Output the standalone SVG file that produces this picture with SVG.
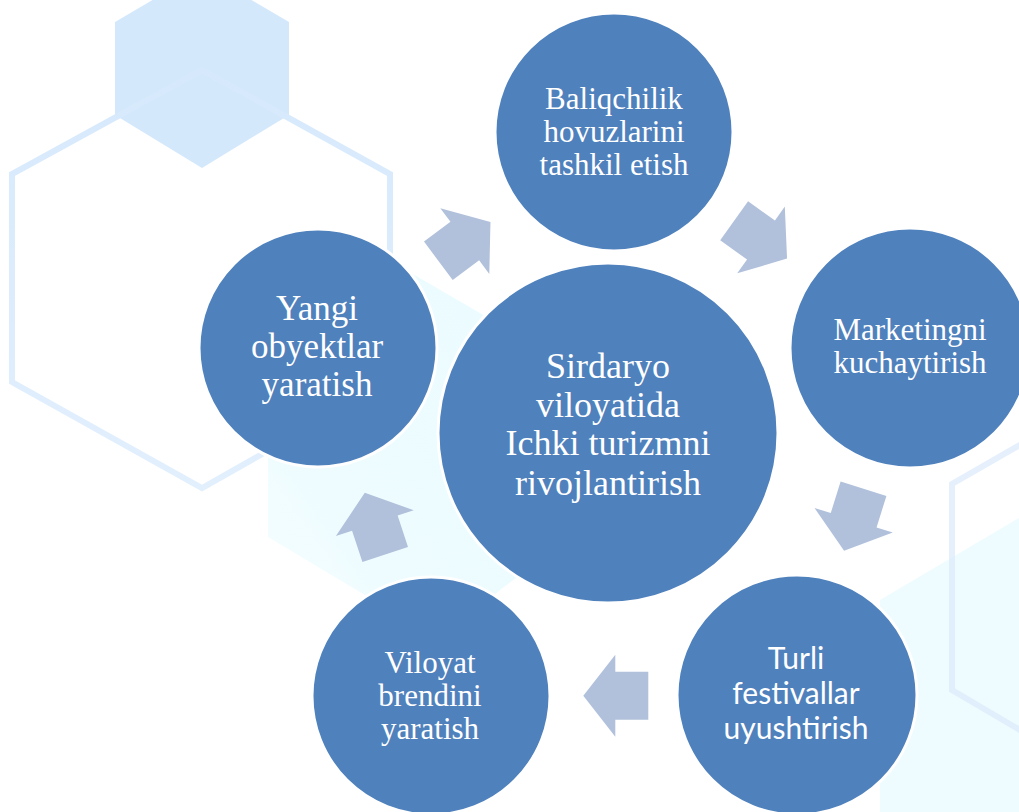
<svg xmlns="http://www.w3.org/2000/svg" width="1019" height="812" viewBox="0 0 1019 812">
<style>
.node{fill:#4F81BD;stroke:#FFFFFF;stroke-width:3}
.lbl{fill:#FFFFFF;font-family:"Liberation Serif","Times New Roman",serif;text-anchor:middle}
.sans{fill:#FFFFFF;font-family:Lato,"Liberation Sans",sans-serif;text-anchor:middle}
.arr{fill:#B1C1DC}
.hexline{fill:none;stroke-width:6;stroke-linejoin:miter}
</style>
<defs>
<path id="arrow" d="M-32.5,-24 L0.5,-24 L0.5,-41 L32.5,0 L0.5,41 L0.5,24 L-32.5,24 Z"/>
<linearGradient id="hexStroke" x1="0" y1="0" x2="0" y2="1">
<stop offset="0" stop-color="#D6E9FC"/>
<stop offset="1" stop-color="#E2EFFD"/>
</linearGradient>
<linearGradient id="cyanL" x1="1" y1="0" x2="0" y2="1">
<stop offset="0" stop-color="#EAFBFF"/>
<stop offset="0.7" stop-color="#EEFCFF"/>
<stop offset="1" stop-color="#F7FEFF"/>
</linearGradient>
</defs>
<rect width="1019" height="812" fill="#FFFFFF"/>
<g id="background">
<polygon points="202,-29 289,22 289,115 202,168 115,115 115,22" fill="#D4E8FC"/>
<polygon class="hexline" points="202,70 390,174 390,382 202,488 12,382 12,174" stroke="url(#hexStroke)"/>
<polygon points="268,310 380,255 540,348 540,560 500,590 440,640 268,537" fill="url(#cyanL)"/>
<polygon points="880,600 1019,518 1019,812 880,812" fill="#EEFCFF"/>
<polyline class="hexline" points="1025,442 952,484 952,690 1025,733" stroke="#DCEBFB" opacity="0.75"/>
</g>
<g id="connectors">
<use href="#arrow" class="arr" transform="translate(464.4,241.4) rotate(-36.7)"/>
<use href="#arrow" class="arr" transform="translate(760.6,239.7) rotate(35.5)"/>
<use href="#arrow" class="arr" transform="translate(853.8,519.8) rotate(107.4)"/>
<use href="#arrow" class="arr" transform="translate(615.8,695.7) rotate(180)"/>
<use href="#arrow" class="arr" transform="translate(375,523.6) rotate(-108.3)"/>
</g>
<g id="node-center">
<circle class="node" cx="608" cy="433" r="170"/>
<text class="lbl" font-size="36"><tspan x="608" y="378">Sirdaryo</tspan><tspan x="608" y="417">viloyatida</tspan><tspan x="608" y="455">Ichki turizmni</tspan><tspan x="608" y="495">rivojlantirish</tspan></text>
</g>
<g id="node-top">
<circle class="node" cx="614" cy="132" r="119"/>
<text class="lbl" font-size="31"><tspan x="614" y="109">Baliqchilik</tspan><tspan x="614" y="142">hovuzlarini</tspan><tspan x="614" y="175">tashkil etish</tspan></text>
</g>
<g id="node-right">
<circle class="node" cx="910" cy="348" r="120"/>
<text class="lbl" font-size="31"><tspan x="910" y="340">Marketingni</tspan><tspan x="910" y="373">kuchaytirish</tspan></text>
</g>
<g id="node-bottom-right">
<circle class="node" cx="797" cy="695" r="120"/>
<text class="sans" font-size="30"><tspan x="796" y="669">Turli</tspan><tspan x="796" y="704">festivallar</tspan><tspan x="796" y="739">uyushtirish</tspan></text>
</g>
<g id="node-bottom-left">
<circle class="node" cx="431" cy="696" r="119"/>
<text class="lbl" font-size="31"><tspan x="430" y="673">Viloyat</tspan><tspan x="430" y="706">brendini</tspan><tspan x="430" y="739">yaratish</tspan></text>
</g>
<g id="node-left">
<circle class="node" cx="318" cy="348" r="119"/>
<text class="lbl" font-size="35"><tspan x="317" y="320">Yangi</tspan><tspan x="317" y="358">obyektlar</tspan><tspan x="317" y="396">yaratish</tspan></text>
</g>
</svg>
